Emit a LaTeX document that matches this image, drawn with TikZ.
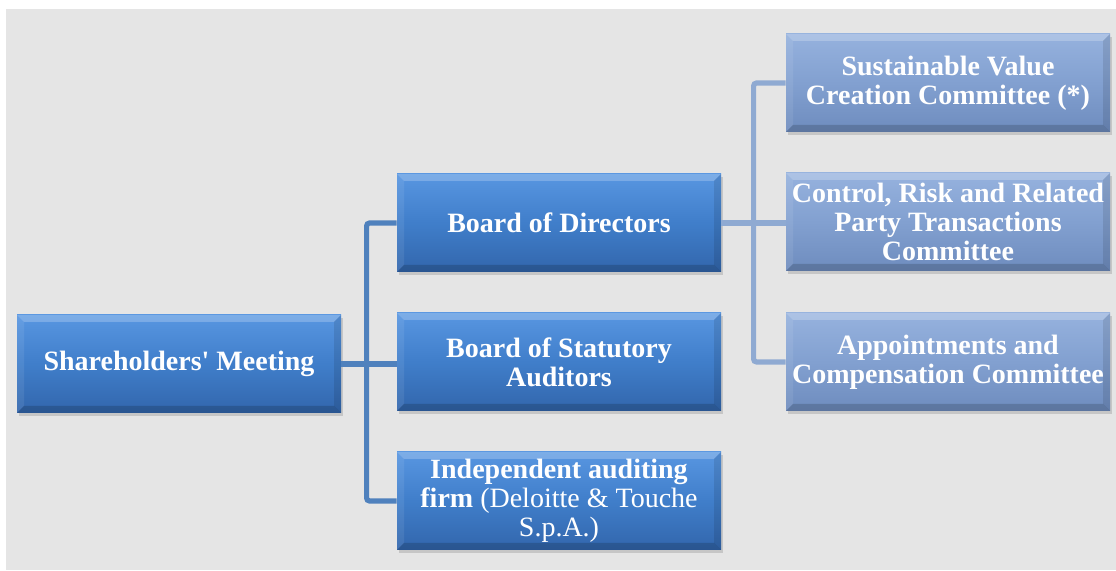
\documentclass[tikz,border=0pt]{standalone}
\usepackage{fontspec}
\setmainfont{Liberation Serif}
\usetikzlibrary{calc, positioning, shadows}
\definecolor{bgGray}{RGB}{229,229,229}
\definecolor{darkTop}{RGB}{88,150,225}
\definecolor{darkMid}{RGB}{64,126,202}
\definecolor{darkBot}{RGB}{50,102,172}
\definecolor{lightTop}{RGB}{150,178,222}
\definecolor{lightMid}{RGB}{130,160,208}
\definecolor{lightBot}{RGB}{110,140,190}
\definecolor{linkDarkCol}{RGB}{79,129,189}
\definecolor{linkLightCol}{RGB}{143,170,210}
\tikzset{
    orgBase/.style={rectangle, minimum width=162pt, minimum height=49pt, inner sep=1pt,
        align=center, text=white, font=\fontsize{14}{14.5}\selectfont\bfseries,
        drop shadow={shadow xshift=1.2pt, shadow yshift=-1.4pt, opacity=0.3},
        path picture={
            % bevel: light top edge, dark bottom edge
            \fill[white, opacity=0.22] (path picture bounding box.north west) -- (path picture bounding box.north east)
                -- ($(path picture bounding box.north east)+(-3.5pt,-3.5pt)$) -- ($(path picture bounding box.north west)+(3.5pt,-3.5pt)$) -- cycle;
            \fill[black, opacity=0.16] (path picture bounding box.south west) -- (path picture bounding box.south east)
                -- ($(path picture bounding box.south east)+(-3.5pt,3.5pt)$) -- ($(path picture bounding box.south west)+(3.5pt,3.5pt)$) -- cycle;
            \fill[black, opacity=0.10] (path picture bounding box.north east) -- (path picture bounding box.south east)
                -- ($(path picture bounding box.south east)+(-3.5pt,3.5pt)$) -- ($(path picture bounding box.north east)+(-3.5pt,-3.5pt)$) -- cycle;
            \fill[white, opacity=0.08] (path picture bounding box.north west) -- (path picture bounding box.south west)
                -- ($(path picture bounding box.south west)+(3.5pt,3.5pt)$) -- ($(path picture bounding box.north west)+(3.5pt,-3.5pt)$) -- cycle;
        }},
    orgBox/.style={orgBase, top color=darkTop, bottom color=darkBot, middle color=darkMid},
    orgBoxLight/.style={orgBase, top color=lightTop, bottom color=lightBot, middle color=lightMid},
    linkDark/.style={draw=linkDarkCol, line width=2.6pt, rounded corners=1.5pt},
    linkLight/.style={draw=linkLightCol, line width=2.6pt, rounded corners=1.5pt},
}

\begin{document}
\begin{tikzpicture}[x=0.5pt, y=-0.5pt]

    \useasboundingbox (0,0) rectangle (1116,571);
    \fill[bgGray] (6,9) rectangle (1116,570);

    % left column
    \node[orgBox] (sm) at (179,364) {Shareholders\textquotesingle\ Meeting};

    % middle column
    \node[orgBox] (bod) at (559,223) {Board of Directors};
    \node[orgBox] (bsa) at (559,362) {Board of Statutory\\Auditors};
    \node[orgBox] (iaf) at (559,501) {Independent auditing\\firm {\mdseries(Deloitte \& Touche}\\{\mdseries S.p.A.)}};

    % committees
    \node[orgBoxLight] (svc) at (948,83) {Sustainable Value\\Creation Committee (*)};
    \node[orgBoxLight] (crc) at (948,222) {Control, Risk and Related\\Party Transactions\\Committee};
    \node[orgBoxLight] (acc) at (948,362) {Appointments and\\Compensation Committee};

    % connectors
    \path[linkDark] (bod.west) -- ++(-30,0) |- (iaf.west);
    \path[linkDark] (sm.east) -- (sm.east -| bsa.west);
    \path[linkLight] (svc.west) -- ++(-32,0) |- (acc.west);
    \path[linkLight] (bod.east) -- (bod.east -| crc.west);

\end{tikzpicture}
\end{document}
